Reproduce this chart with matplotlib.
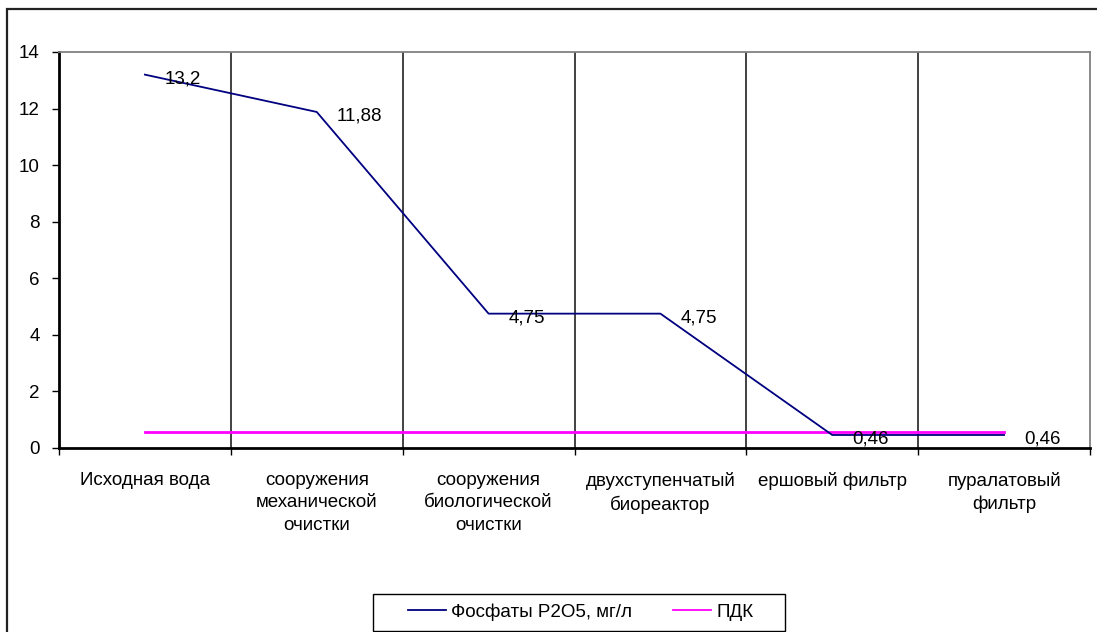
import matplotlib
matplotlib.use("Agg")
import matplotlib.pyplot as plt
from matplotlib.patches import Rectangle

plt.rcParams['font.family'] = ['Liberation Sans', 'DejaVu Sans']

# Treatment stages
categories = [
    "Исходная вода",
    "сооружения\nмеханической\nочистки",
    "сооружения\nбиологической\nочистки",
    "двухступенчатый\nбиореактор",
    "ершовый фильтр",
    "пуралатовый\nфильтр",
]
phosphates = [13.2, 11.88, 4.75, 4.75, 0.46, 0.46]
pdk = [0.55, 0.55, 0.55, 0.55, 0.55, 0.55]
value_labels = ["13,2", "11,88", "4,75", "4,75", "0,46", "0,46"]
y_ticks = [0, 2, 4, 6, 8, 10, 12, 14]

FS = 13.5
W, H = 1097, 632
fig = plt.figure(figsize=(W / 100, H / 100), dpi=100)
fig.patch.set_facecolor("white")

# outer chart frame (right and bottom edges fall outside the image)
fig.add_artist(Rectangle((7 / W, -0.2), 1.5, 1.2 - 9 / H, transform=fig.transFigure,
                         fill=False, edgecolor="#222222", linewidth=1.6, clip_on=False))

left, right, top, bottom = 59, 1090, 52, 448
ax = fig.add_axes([left / W, 1 - bottom / H, (right - left) / W, (bottom - top) / H])

x = [i + 0.5 for i in range(len(categories))]

ax.set_xlim(0, len(categories))
ax.set_ylim(0, 14)

# vertical separators between stages
for b in range(1, len(categories)):
    ax.axvline(b, color="#333333", linewidth=1.3, zorder=1)

ln_p, = ax.plot(x, pdk, color="#FF00FF", linewidth=2.0, zorder=3, label="ПДК")
ln_f, = ax.plot(x, phosphates, color="#000080", linewidth=1.3, zorder=4,
                label="Фосфаты P2O5, мг/л")

for xi, yi, txt in zip(x, phosphates, value_labels):
    ax.annotate(txt, (xi, yi), xytext=(14.5, -2.8), textcoords="offset points",
                ha="left", va="center", fontsize=FS, color="black", zorder=5)

# axes styling
for s in ("left", "bottom"):
    ax.spines[s].set_color("black")
    ax.spines[s].set_linewidth(2.0)
for s in ("top", "right"):
    ax.spines[s].set_color("#808080")
    ax.spines[s].set_linewidth(1.3)

ax.set_yticks(y_ticks)
ax.set_yticklabels([str(v) for v in y_ticks], fontsize=FS)
ax.tick_params(axis="y", direction="out", length=5, width=1, pad=9, colors="black")

ax.set_xticks(range(len(categories) + 1))
ax.set_xticklabels([])
ax.tick_params(axis="x", which="major", direction="out", length=5, width=1)
ax.set_xticks(x, minor=True)
ax.set_xticklabels(categories, minor=True, fontsize=FS, linespacing=1.42)
ax.tick_params(axis="x", which="minor", length=0, pad=17)

# legend box with the entries placed inside it
fig.add_artist(Rectangle((373 / W, 1 - 631 / H), (785 - 373) / W, 37 / H,
                         transform=fig.transFigure, fill=True, facecolor="white",
                         edgecolor="black", linewidth=1.0))
leg = fig.legend(handles=[ln_f, ln_p], loc="center left",
                 bbox_to_anchor=(408 / W, 1 - 612 / H), ncol=2, fontsize=FS,
                 frameon=False, handlelength=2.0, handletextpad=0.3,
                 columnspacing=2.2, borderpad=0, borderaxespad=0)
for h in leg.legend_handles:
    h.set_linewidth(1.3)

fig.savefig("out.png", dpi=100, facecolor="white")
